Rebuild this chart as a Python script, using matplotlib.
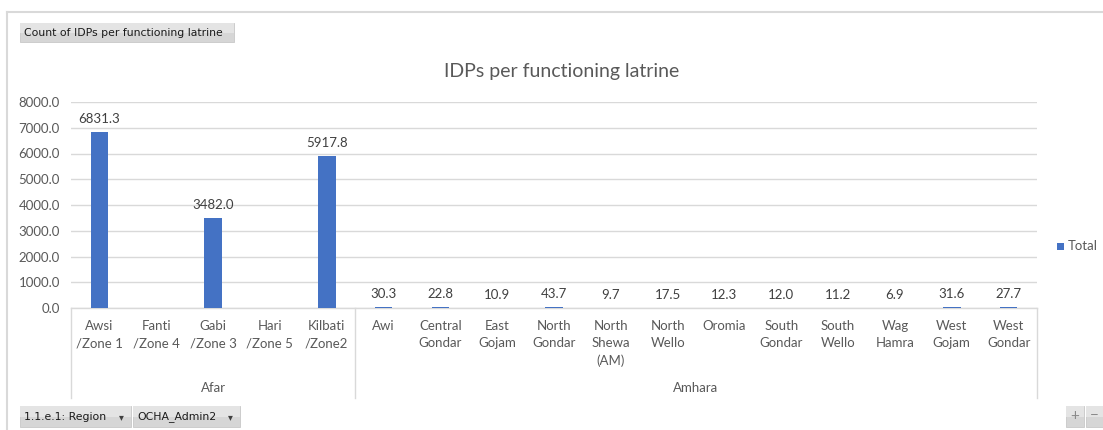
import numpy as np
import matplotlib.pyplot as plt
from matplotlib.patches import Rectangle
from matplotlib.lines import Line2D
import matplotlib.transforms as mtransforms

plt.rcParams['font.family'] = ['Lato', 'DejaVu Sans']

regions = ["Afar", "Amhara"]
afar_zones = ["Awsi\n/Zone 1", "Fanti\n/Zone 4", "Gabi\n/Zone 3", "Hari\n/Zone 5", "Kilbati\n/Zone2"]
amhara_zones = ["Awi", "Central\nGondar", "East\nGojam", "North\nGondar", "North\nShewa\n(AM)",
                "North\nWello", "Oromia", "South\nGondar", "South\nWello", "Wag\nHamra",
                "West\nGojam", "West\nGondar"]
afar_values = [6831.3, np.nan, 3482.0, np.nan, 5917.8]
amhara_values = [30.3, 22.8, 10.9, 43.7, 9.7, 17.5, 12.3, 12.0, 11.2, 6.9, 31.6, 27.7]
y_ticks = [0, 1000, 2000, 3000, 4000, 5000, 6000, 7000, 8000]

categories = afar_zones + amhara_zones
values = afar_values + amhara_values
group_sizes = [len(afar_zones), len(amhara_zones)]

W, H = 1103, 430
fig = plt.figure(figsize=(W / 100, H / 100), dpi=100)
fig.patch.set_facecolor('white')

def fx(px):
    return px / W

def fy(py):
    return 1 - py / H

ax = fig.add_axes([fx(71), fy(308), fx(1037) - fx(71), fy(102) - fy(308)])
x = np.arange(len(categories))
bar_color = '#4472C4'
ax.bar(x, np.nan_to_num(values, nan=0.0), width=0.31, color=bar_color, zorder=3)
ax.set_xlim(-0.5, len(categories) - 0.5)
ax.set_ylim(0, 8000)
ax.set_yticks(y_ticks)
ax.set_yticklabels([f"{v:.1f}" for v in y_ticks], color='#595959', fontsize=9.5)
ax.tick_params(axis='y', length=0, pad=8)
ax.set_xticks([])
ax.grid(axis='y', color='#d9d9d9', linewidth=1, zorder=0)
for s in ['top', 'right', 'left']:
    ax.spines[s].set_visible(False)
ax.spines['bottom'].set_color('#d9d9d9')
ax.spines['bottom'].set_linewidth(1)

# value labels above bars
for xi, v in zip(x, values):
    if np.isnan(v):
        continue
    ax.annotate(f"{v:.1f}", (xi, v), xytext=(0, 5), textcoords='offset points',
                ha='center', va='bottom', fontsize=9.5, color='#404040')

trans = mtransforms.blended_transform_factory(ax.transData, ax.transAxes)
px_to_ax = 1 / (308 - 102)

# category labels
for xi, lab in zip(x, categories):
    ax.text(xi, -(320 - 308) * px_to_ax, lab, transform=trans, ha='center', va='top',
            fontsize=9.5, color='#595959', linespacing=1.5, multialignment='center')

# group separators and group labels
bounds = np.concatenate([[0], np.cumsum(group_sizes)]) - 0.5
for b in bounds:
    ax.add_line(Line2D([b, b], [0, -(398 - 308) * px_to_ax], transform=trans,
                       color='#d9d9d9', linewidth=1, clip_on=False))
for i, reg in enumerate(regions):
    c = (bounds[i] + bounds[i + 1]) / 2
    ax.text(c, -(388 - 308) * px_to_ax, reg, transform=trans, ha='center', va='center',
            fontsize=9.5, color='#595959')

# title
fig.text(fx(562), fy(72), "IDPs per functioning latrine", ha='center', va='center',
         fontsize=14, color='#595959')

# legend
fig.patches.append(Rectangle((fx(1057), fy(250)), fx(7), fy(243) - fy(250),
                             transform=fig.transFigure, facecolor=bar_color, edgecolor='none'))
fig.text(fx(1068), fy(246), "Total", ha='left', va='center', fontsize=9.5, color='#595959')

# chart frame
fig.add_artist(Line2D([fx(7), fx(1103)], [fy(12), fy(12)], color='#d9d9d9', linewidth=1.5))
fig.add_artist(Line2D([fx(7), fx(7)], [fy(12), fy(430)], color='#d9d9d9', linewidth=1.5))

# pivot field buttons
def button(x0, y0, x1, y1, text, arrow=False):
    fig.patches.append(Rectangle((fx(x0), fy(y1)), fx(x1 - x0), fy(y0) - fy(y1),
                                 transform=fig.transFigure, facecolor='#d6d6d6',
                                 edgecolor='#c8c8c8', linewidth=0.6))
    fig.patches.append(Rectangle((fx(x0), fy((y0 + y1) / 2)), fx(x1 - x0), fy(y0) - fy((y0 + y1) / 2),
                                 transform=fig.transFigure, facecolor='#e4e4e4',
                                 edgecolor='none'))
    if text:
        fig.text(fx(x0 + 4), fy((y0 + y1) / 2 + 0.5), text, ha='left', va='center',
                 fontsize=7.8, color='#1a1a1a', family=['DejaVu Sans'])
    if arrow:
        fig.text(fx(x1 - 10), fy((y0 + y1) / 2 + 0.5), "\u25BE", ha='center', va='center',
                 fontsize=7, color='#404040', family=['DejaVu Sans'])

button(20, 23, 234, 42, "Count of IDPs per functioning latrine")
button(20, 406, 131, 427, "1.1.e.1: Region", arrow=True)
button(133, 406, 240, 427, "OCHA_Admin2", arrow=True)
button(1066, 406, 1084, 427, "")
button(1086, 406, 1103, 427, "")
fig.text(fx(1075), fy(416), "+", ha='center', va='center', fontsize=11, color='#8a8a8a')
fig.text(fx(1094.5), fy(416), "\u2212", ha='center', va='center', fontsize=11, color='#8a8a8a')

fig.savefig("out.png", dpi=100, facecolor='white')
